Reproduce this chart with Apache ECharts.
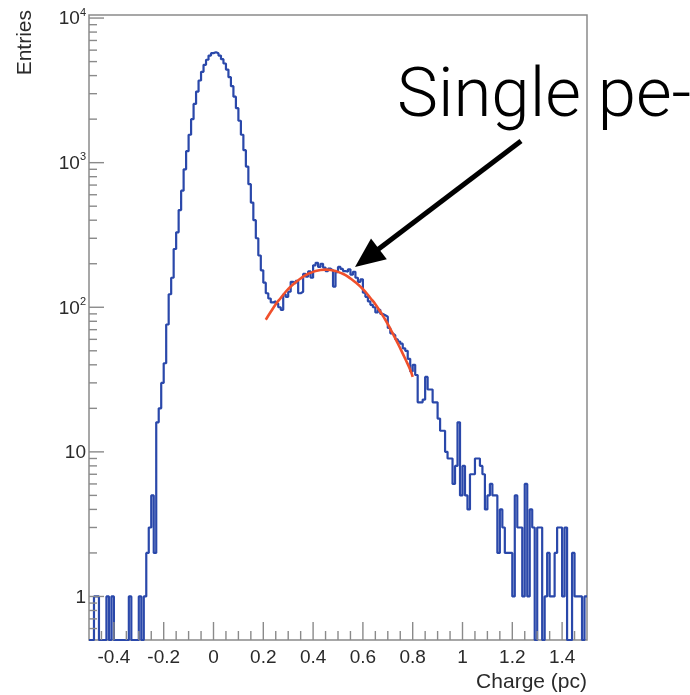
<!DOCTYPE html>
<html><head><meta charset="utf-8">
<script src="https://cdn.jsdelivr.net/npm/echarts@6/dist/echarts.min.js"></script>
<style>html,body{margin:0;padding:0;background:#fff}#c{width:690px;height:695px}</style>
</head><body><div id="c"></div>
<script>
// ---- data ----
const binLow = -0.5;
const binWidth = 0.01;
const counts = [
  0,0,1,1,0,0,0,1,0,1,
  0,0,0,0,0,0,1,0,0,0,
  1,0,1,2,3,5,2,16,20,30,
  41,76,123,160,253,330,470,640,900,1200,
  1560,2000,2550,3100,3700,4250,4750,5150,5500,5720,
  5800,5700,5500,5200,4850,4400,3900,3380,2860,2380,
  1950,1560,1220,940,710,530,400,300,228,180,
  148,125,115,108,110,106,100,96,123,118,
  128,150,146,152,125,128,170,163,177,160,
  195,203,190,200,188,178,185,180,139,175,
  190,184,178,176,183,168,176,160,150,156,
  126,118,110,104,100,92,96,90,88,86,
  72,66,64,60,58,56,52,50,44,36,
  40,34,22,22,23,33,27,27,22,22,
  17,14,14,10,9,9,6,8,16,5,
  8,5,4,7,7,9,9,8,7,4,
  5,6,5,5,2,4,3,2,2,2,
  1,5,3,3,1,6,1,4,3,0,
  3,3,0,1,2,1,1,2,3,3,
  1,3,0,0,2,1,1,1,0,1
];
const fitX = [0.21,0.23,0.25,0.27,0.29,0.31,0.33,0.35,0.37,0.39,0.41,0.43,0.45,0.47,0.49,0.51,0.53,0.55,0.57,0.59,0.61,0.63,0.65,0.67,0.69,0.71,0.73,0.75,0.77,0.79,0.80];
const fitY = [82,93,105,116,128,139,149,158,167,173,178,181,182,181,178,173,167,158,149,139,128,116,105,93,82,71,61,52,44,37,33];

const xMajorTicks = [-0.4,-0.2,0,0.2,0.4,0.6,0.8,1,1.2,1.4];
const xTickLabels = ['-0.4','-0.2','0','0.2','0.4','0.6','0.8','1','1.2','1.4'];
const xMinorTicks = [-0.45,-0.35,-0.3,-0.25,-0.15,-0.1,-0.05,0.05,0.1,0.15,0.25,0.3,0.35,0.45,0.5,0.55,0.65,0.7,0.75,0.85,0.9,0.95,1.05,1.1,1.15,1.25,1.3,1.35,1.45];
const yMajorTicks = [1,10,100,1000,10000];
const yTickBase = ['1','10','10','10','10'];
const yTickExp = ['','','2','3','4'];
const yMinorTicks = [0.6,0.7,0.8,0.9,2,3,4,5,6,7,8,9,20,30,40,50,60,70,80,90,200,300,400,500,600,700,800,900,2000,3000,4000,5000,6000,7000,8000,9000];

const X_MIN = -0.5, X_MAX = 1.5, Y_MIN = 0.5, Y_MAX = 10500;
const AXIS_COLOR = '#8a8a8a';
const LABEL_COLOR = '#2a2a2a';
const FONT = '"Liberation Sans", Arial, Helvetica, sans-serif';

// histogram step data (bin left edges), empty bins drawn down to the frame bottom
const histData = counts.map((c, i) => [binLow + i * binWidth, c > 0 ? c : Y_MIN]);
histData.push([binLow + counts.length * binWidth, counts[counts.length - 1] > 0 ? counts[counts.length - 1] : Y_MIN]);
const fitData = fitX.map((x, i) => [x, fitY[i]]);

function tickSeries(values, axis, len, labelFn) {
  return {
    type: 'custom', coordinateSystem: 'cartesian2d', silent: true, clip: false, z: 5,
    animation: false,
    data: values.map(v => axis === 'x' ? [v, Y_MIN] : [X_MIN, v]),
    renderItem: function (params, api) {
      const p = api.coord([api.value(0), api.value(1)]);
      const children = [];
      if (axis === 'x') {
        children.push({type: 'line', shape: {x1: p[0], y1: p[1], x2: p[0], y2: p[1] - len},
          style: {stroke: AXIS_COLOR, lineWidth: 1.4}});
      } else {
        children.push({type: 'line', shape: {x1: p[0], y1: p[1], x2: p[0] + len, y2: p[1]},
          style: {stroke: AXIS_COLOR, lineWidth: 1.4}});
      }
      if (labelFn) {
        const t = labelFn(params.dataIndex);
        if (axis === 'x') {
          children.push({type: 'text', style: {text: t, x: p[0], y: p[1] + 18, align: 'center',
            verticalAlign: 'middle', fill: LABEL_COLOR, font: '19px ' + FONT}});
        } else {
          children.push({type: 'text', style: {text: t, x: p[0] - 3, y: p[1] + 1, align: 'right',
            verticalAlign: 'middle', fill: LABEL_COLOR, font: '19px ' + FONT,
            rich: {
              b: {fontSize: 19, fontFamily: FONT, lineHeight: 24, fill: LABEL_COLOR},
              s: {fontSize: 11, fontFamily: FONT, lineHeight: 11, verticalAlign: 'top', fill: LABEL_COLOR}
            }}});
        }
      }
      return {type: 'group', children: children};
    }
  };
}

const chart = echarts.init(document.getElementById('c'), null, {renderer: 'canvas'});
chart.setOption({
  animation: false,
  backgroundColor: '#fff',
  grid: {left: 89, right: 103, top: 15, bottom: 55, show: true, borderColor: AXIS_COLOR, borderWidth: 1.5, backgroundColor: 'transparent'},
  xAxis: {type: 'value', min: X_MIN, max: X_MAX, axisLine: {show: false}, axisTick: {show: false}, axisLabel: {show: false}, splitLine: {show: false}},
  yAxis: {type: 'log', logBase: 10, min: Y_MIN, max: Y_MAX, axisLine: {show: false}, axisTick: {show: false}, axisLabel: {show: false}, splitLine: {show: false}, minorTick: {show: false}},
  series: [
    {type: 'line', data: histData, step: 'end', showSymbol: false, symbol: 'none', clip: true,
      lineStyle: {color: '#2a48aa', width: 2.2}, z: 3},
    {type: 'line', data: fitData, smooth: true, showSymbol: false, symbol: 'none',
      lineStyle: {color: '#f0502c', width: 2.6}, z: 4},
    tickSeries(xMajorTicks, 'x', 18, i => xTickLabels[i]),
    tickSeries(xMinorTicks, 'x', 9, null),
    tickSeries(yMajorTicks, 'y', 15, i => yTickExp[i] ? '{b|' + yTickBase[i] + '}{s|' + yTickExp[i] + '}' : '{b|' + yTickBase[i] + '}'),
    tickSeries(yMinorTicks, 'y', 8, null)
  ],
  graphic: [
    {type: 'text', x: 25, y: 10, rotation: Math.PI / 2, silent: true,
      style: {text: 'Entries', align: 'right', verticalAlign: 'middle', fill: LABEL_COLOR, font: '21px ' + FONT}},
    {type: 'text', x: 587, y: 682, silent: true,
      style: {text: 'Charge (pc)', align: 'right', verticalAlign: 'middle', fill: LABEL_COLOR, font: '21px ' + FONT}},
    {type: 'text', x: 397, y: 99, silent: true,
      style: {text: 'Single pe-', align: 'left', verticalAlign: 'middle', fill: '#000', font: '300 69px Roboto, "Open Sans", "Liberation Sans", sans-serif'}},
    {type: 'line', silent: true, shape: {x1: 521, y1: 141, x2: 376, y2: 251}, style: {stroke: '#000', lineWidth: 5}},
    {type: 'polygon', silent: true, shape: {points: [[355, 267], [371, 238.5], [386.8, 259.3]]}, style: {fill: '#000'}}
  ]
});
</script>
</body></html>
